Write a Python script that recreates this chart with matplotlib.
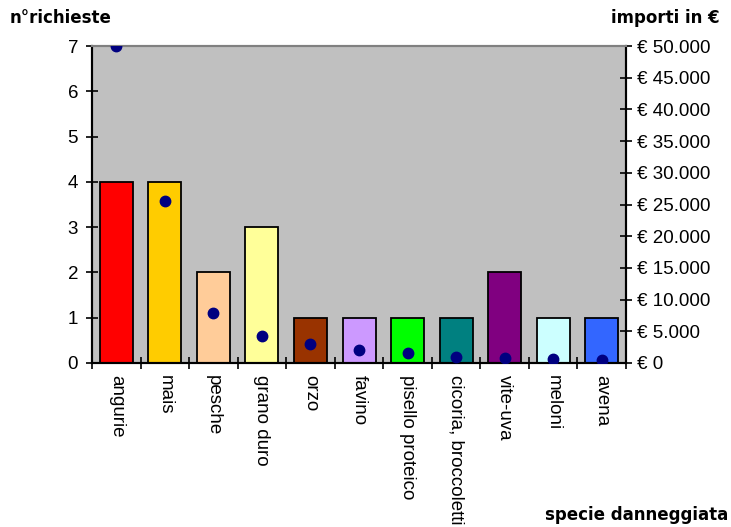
import numpy as np
import matplotlib
matplotlib.use("Agg")
import matplotlib.pyplot as plt
from matplotlib.ticker import FuncFormatter, MultipleLocator

plt.rcParams['font.family'] = ['Liberation Sans', 'DejaVu Sans']

specie = ['angurie', 'mais', 'pesche', 'grano duro', 'orzo', 'favino',
          'pisello proteico', 'cicoria, broccoletti', 'vite-uva', 'meloni', 'avena']
richieste = [4, 4, 2, 3, 1, 1, 1, 1, 2, 1, 1]
importi = [50000, 25500, 7900, 4300, 2950, 2050, 1550, 1000, 750, 700, 450]
colori = ['#FF0000', '#FFCC00', '#FFCC99', '#FFFF99', '#993300', '#CC99FF',
          '#00FF00', '#008080', '#800080', '#CCFFFF', '#3366FF']

fig = plt.figure(figsize=(7.31, 5.27), dpi=100)
ax = fig.add_axes([0.1259, 0.3112, 0.7305, 0.6015])
ax.set_facecolor('#C0C0C0')

x = np.arange(len(specie))
ax.bar(x, richieste, width=0.68, color=colori, edgecolor='black', linewidth=1.3, zorder=2)
ax.set_xlim(-0.5, len(specie) - 0.5)
ax.set_ylim(0, 7)
ax.yaxis.set_major_locator(MultipleLocator(1))
ax.set_xticks(x)
ax.set_xticklabels(specie, rotation=270, fontsize=13.5, va='top', ha='center')
ax.tick_params(axis='x', length=0, pad=9)
ax.set_xticks(np.arange(-0.5, len(specie), 1), minor=True)
ax.tick_params(axis='x', which='minor', direction='inout', length=8, width=1.2)
ax.tick_params(axis='y', direction='inout', length=8, width=1.2, labelsize=13.5, pad=6)

ax2 = ax.twinx()
ax2.plot(x, importi, 'o', color='#000080', markersize=7.5, zorder=3)
ax2.set_ylim(0, 50000)
ax2.yaxis.set_major_locator(MultipleLocator(5000))
ax2.yaxis.set_major_formatter(FuncFormatter(lambda v, p: '€ ' + f'{int(v):,}'.replace(',', '.')))
ax2.tick_params(axis='y', direction='inout', length=8, width=1.2, labelsize=13.5, pad=4)

for a in (ax, ax2):
    a.spines['top'].set_color('#808080')
    a.spines['top'].set_linewidth(1.5)
    for s in ('left', 'right', 'bottom'):
        a.spines[s].set_linewidth(1.5)
        a.spines[s].set_color('black')

bold = dict(fontsize=12, fontweight='bold', va='center', family='DejaVu Sans')
fig.text(10 / 731, 1 - 18 / 527, 'n°richieste', ha='left', **bold)
fig.text(720 / 731, 1 - 18 / 527, 'importi in €', ha='right', **bold)
fig.text(728 / 731, 1 - 515 / 527, 'specie danneggiata', ha='right', **bold)

fig.savefig('out.png', dpi=100)
